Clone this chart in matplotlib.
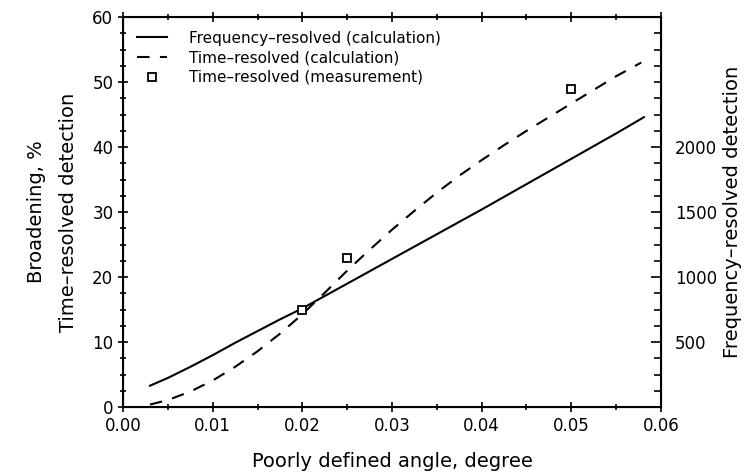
import numpy as np
import matplotlib
matplotlib.use("Agg")
import matplotlib.pyplot as plt
from matplotlib.ticker import MultipleLocator, FixedLocator, FormatStrFormatter

# values
freq_x = [0.003, 0.005, 0.0075, 0.010, 0.0125, 0.015, 0.0175, 0.020, 0.025, 0.030,
          0.035, 0.040, 0.045, 0.050, 0.055, 0.0581]
freq_y = [3.3, 4.5, 6.2, 8.0, 9.9, 11.7, 13.5, 15.2, 19.0, 22.8,
          26.6, 30.4, 34.3, 38.2, 42.1, 44.6]

time_x = [0.003, 0.005, 0.0075, 0.010, 0.0125, 0.015, 0.0175, 0.020, 0.0225,
          0.025, 0.0275, 0.030, 0.0325, 0.035, 0.0375, 0.040, 0.0425, 0.045,
          0.0475, 0.050, 0.0525, 0.055, 0.0578]
time_y = [0.4, 1.1, 2.4, 4.1, 6.2, 8.6, 11.3, 14.3, 17.6,
          21.0, 24.2, 27.3, 30.2, 33.0, 35.6, 38.0, 40.3, 42.5,
          44.6, 46.7, 48.8, 50.9, 53.0]

meas_x = [0.020, 0.025, 0.050]
meas_y = [15.0, 23.0, 49.0]

right_ticks = [500, 1000, 1500, 2000]

plt.rcParams['font.family'] = ['DejaVu Sans']

fig = plt.figure(figsize=(7.46, 4.74), dpi=100)
ax = fig.add_axes([0.165, 0.141, 0.721, 0.823])

ax.plot(freq_x, freq_y, color='black', lw=1.5, label='Frequency\u2013resolved (calculation)')
ax.plot(time_x, time_y, color='black', lw=1.5, dashes=(6, 5), label='Time\u2013resolved (calculation)')
ax.plot(meas_x, meas_y, ls='none', marker='s', ms=6, mfc='white', mec='black', mew=1.3,
        label='Time\u2013resolved (measurement)')

ax.set_xlim(0, 0.06)
ax.set_ylim(0, 60)
ax.xaxis.set_major_locator(MultipleLocator(0.01))
ax.xaxis.set_minor_locator(MultipleLocator(0.005))
ax.yaxis.set_major_locator(MultipleLocator(10))
ax.yaxis.set_minor_locator(MultipleLocator(2.5))
ax.xaxis.set_major_formatter(FormatStrFormatter('%.2f'))
ax.tick_params(which='both', direction='inout', labelsize=12, width=1.2, top=True)
ax.tick_params(which='major', length=7)
ax.tick_params(which='minor', length=4)
for s in ax.spines.values():
    s.set_linewidth(1.5)

ax.set_xlabel('Poorly defined angle, degree', fontsize=14, labelpad=12)
ax.set_ylabel('Broadening, %\nTime\u2013resolved detection', fontsize=14, labelpad=10,
              linespacing=1.9)

ax2 = ax.twinx()
ax2.set_ylim(0, 3000)
ax2.yaxis.set_major_locator(FixedLocator(right_ticks))
ax2.yaxis.set_minor_locator(MultipleLocator(125))
ax2.tick_params(which='both', direction='in', labelsize=12, width=1.2, pad=10)
ax2.tick_params(which='major', length=7)
ax2.tick_params(which='minor', length=5)
ax2.set_ylabel('Frequency\u2013resolved detection', fontsize=14, labelpad=4)

ax.legend(loc='upper left', frameon=False, fontsize=11, handlelength=2.0,
          handletextpad=1.4, borderaxespad=0.5, labelspacing=0.3,
          bbox_to_anchor=(0.0, 1.0))

fig.savefig('out.png', dpi=100)
